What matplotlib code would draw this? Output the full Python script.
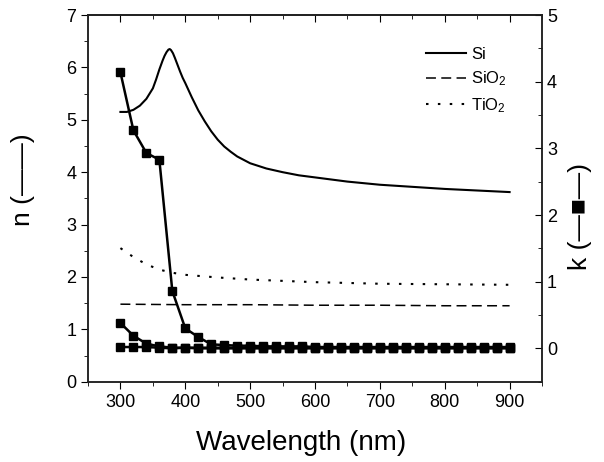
import matplotlib.pyplot as plt
from matplotlib.ticker import MultipleLocator

plt.rcParams['font.family'] = ['Liberation Sans', 'DejaVu Sans']
plt.rcParams['mathtext.fontset'] = 'custom'
plt.rcParams['mathtext.rm'] = 'Liberation Sans'
plt.rcParams['mathtext.it'] = 'Liberation Sans'

# refractive index n (left axis)
si_wl = [300, 310, 320, 330, 340, 350, 355, 360, 365, 368, 371, 374, 376, 378, 381, 384,
         388, 392, 396, 400, 410, 420, 430, 440, 450, 460, 470, 480, 500, 525, 550, 575,
         600, 650, 700, 750, 800, 850, 900]
si_n = [5.15, 5.15, 5.19, 5.27, 5.40, 5.60, 5.77, 5.96, 6.13, 6.22, 6.29, 6.34, 6.35, 6.33,
        6.27, 6.18, 6.05, 5.92, 5.80, 5.70, 5.43, 5.18, 4.97, 4.78, 4.62, 4.49, 4.39, 4.30,
        4.17, 4.07, 4.00, 3.94, 3.90, 3.82, 3.76, 3.72, 3.68, 3.65, 3.62]

sio2_wl = [300, 400, 500, 600, 700, 800, 900]
sio2_n = [1.48, 1.47, 1.47, 1.46, 1.46, 1.45, 1.45]

tio2_wl = [300, 320, 340, 360, 380, 400, 450, 500, 600, 700, 800, 900]
tio2_n = [2.55, 2.38, 2.24, 2.14, 2.08, 2.04, 1.99, 1.95, 1.90, 1.87, 1.86, 1.85]

# extinction coefficient k (right axis), every 20 nm
k_wl = list(range(300, 901, 20))
si_k = [4.14, 3.27, 2.93, 2.83, 0.86, 0.30, 0.17, 0.06, 0.05, 0.04, 0.04, 0.03, 0.03, 0.03,
        0.03, 0.02, 0.02, 0.02, 0.02, 0.02, 0.02, 0.02, 0.02, 0.02, 0.02, 0.02, 0.02, 0.02,
        0.02, 0.02, 0.02]
tio2_k = [0.38, 0.19, 0.07, 0.03, 0.01, 0.01, 0.0, 0.0, 0.0, 0.0, 0.0, 0.0, 0.0, 0.0,
          0.0, 0.0, 0.0, 0.0, 0.0, 0.0, 0.0, 0.0, 0.0, 0.0, 0.0, 0.0, 0.0, 0.0,
          0.0, 0.0, 0.0]
sio2_k = [0.02, 0.02, 0.02, 0.01, 0.0, 0.01, 0.01, 0.01, 0.01, 0.01, 0.01, 0.01, 0.01, 0.01,
          0.01, 0.01, 0.01, 0.01, 0.01, 0.01, 0.01, 0.01, 0.01, 0.01, 0.01, 0.01, 0.01, 0.01,
          0.01, 0.01, 0.01]

fig = plt.figure(figsize=(6.04, 4.62), dpi=100)
ax = fig.add_axes([0.1457, 0.1738, 0.7517, 0.7937])
ax2 = ax.twinx()

ax.plot(si_wl, si_n, '-', color='black', lw=1.5, label='Si')
ax.plot(sio2_wl, sio2_n, color='black', lw=1.1, linestyle=(0, (6.5, 3.5)), label='SiO$_\\mathregular{2}$')
ax.plot(tio2_wl, tio2_n, color='black', lw=1.5, linestyle=(0, (1.2, 4.5)), label='TiO$_\\mathregular{2}$')

for vals in (sio2_k, tio2_k, si_k):
    ax2.plot(k_wl, vals, '-s', color='black', lw=1.8, markersize=6)

ax.set_xlim(250, 950)
ax.set_ylim(0, 7)
ax2.set_ylim(-0.5, 5)

ax.xaxis.set_major_locator(MultipleLocator(100))
ax.xaxis.set_minor_locator(MultipleLocator(50))
ax.yaxis.set_major_locator(MultipleLocator(1))
ax.yaxis.set_minor_locator(MultipleLocator(0.5))
ax2.set_yticks([0, 1, 2, 3, 4, 5])
ax2.yaxis.set_minor_locator(MultipleLocator(0.5))

ax.tick_params(axis='both', which='both', direction='out', labelsize=13)
ax.tick_params(axis='both', which='major', length=5)
ax.tick_params(axis='both', which='minor', length=3)
ax2.tick_params(axis='y', which='both', direction='in', labelsize=13)
ax2.tick_params(axis='y', which='major', length=5)
ax2.tick_params(axis='y', which='minor', length=3)

# inward ticks along the top edge
top = ax.secondary_xaxis('top')
top.xaxis.set_major_locator(MultipleLocator(100))
top.xaxis.set_minor_locator(MultipleLocator(50))
top.tick_params(axis='x', which='both', direction='in', labeltop=False)
top.tick_params(axis='x', which='major', length=5)
top.tick_params(axis='x', which='minor', length=3)

for a in (ax, ax2, top):
    for s in a.spines.values():
        s.set_linewidth(1.1)
        s.set_color('#222222')

ax.set_xlabel('Wavelength (nm)', fontsize=20, va='center')
ax.xaxis.set_label_coords(0.47, -0.167)
ax.set_ylabel('n (\u2014\u2014)', fontsize=19, va='center')
ax.yaxis.set_label_coords(-0.143, 0.55)
ax2.set_ylabel('k (\u2014\u25a0\u2014)', fontsize=19, va='center')
ax2.yaxis.set_label_coords(1.084, 0.45)

ax.legend(loc='upper left', bbox_to_anchor=(0.744, 0.912), frameon=False, fontsize=12,
          handlelength=2.4, handletextpad=0.3, borderpad=0, borderaxespad=0,
          labelspacing=0.45)

fig.savefig('out.png', dpi=100)
